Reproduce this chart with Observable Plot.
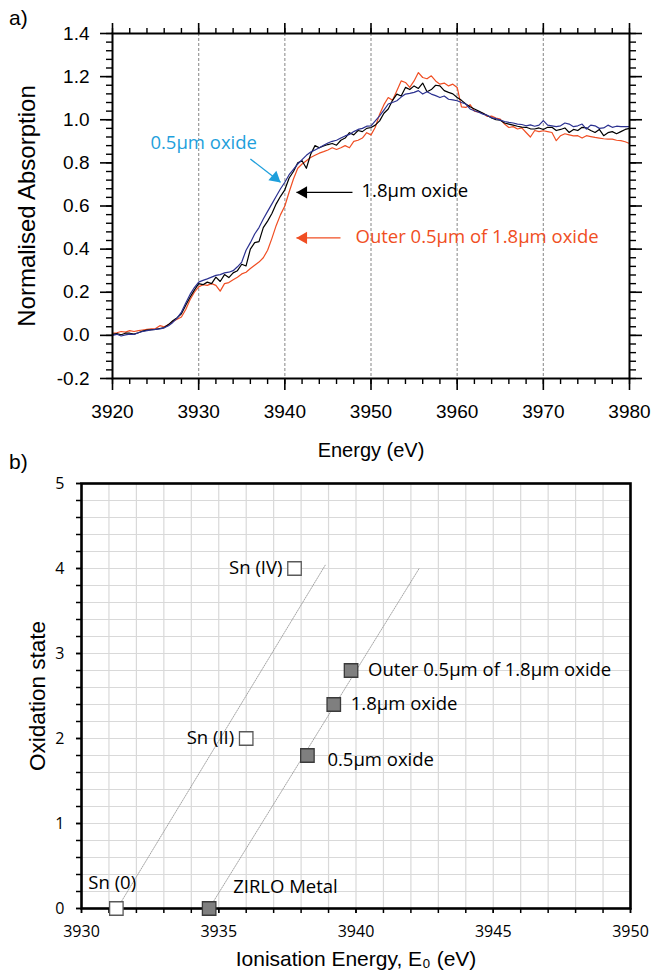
<!DOCTYPE html>
<html><head><meta charset="utf-8">
<script src="https://cdn.jsdelivr.net/npm/d3@7"></script>
<script src="https://cdn.jsdelivr.net/npm/@observablehq/plot@0.6"></script>
<style>
body{margin:0;background:#fff;}
#wrap{position:relative;width:652px;height:973px;overflow:hidden;background:#fff;}
#wrap svg{position:absolute;left:0;overflow:visible;}
.panel{position:absolute;left:9px;font-family:"Liberation Sans",Arial,sans-serif;font-size:21px;color:#000;}
</style></head><body>
<div id="wrap">
<div class="panel" style="top:6px">a)</div>
<div class="panel" style="top:450px">b)</div>
</div>
<script>
// ---------- Panel a) XANES spectra ----------
const energyStart = 3920, energyStep = 0.5;
const oxide05 = [
 0.000,0.005,-0.003,0.002,0.006,0.004,0.012,0.018,0.022,0.025,
 0.028,0.030,0.035,0.045,0.060,0.080,0.108,0.150,0.190,0.222,
 0.247,0.255,0.262,0.270,0.278,0.282,0.290,0.293,0.300,0.318,
 0.340,0.395,0.430,0.470,0.500,0.540,0.575,0.610,0.645,0.680,
 0.710,0.745,0.770,0.795,0.815,0.835,0.850,0.860,0.870,0.882,
 0.892,0.900,0.905,0.915,0.925,0.932,0.945,0.955,0.960,0.970,
 0.972,0.995,1.018,1.045,1.073,1.080,1.088,1.105,1.119,1.122,
 1.127,1.135,1.119,1.130,1.119,1.112,1.103,1.110,1.095,1.092,
 1.088,1.080,1.073,1.050,1.042,1.035,1.026,1.020,1.010,1.005,
 0.998,0.992,0.988,0.985,0.980,0.978,0.972,0.976,0.970,0.975,
 0.996,0.975,0.972,0.968,0.972,0.985,0.980,0.968,0.972,0.980,
 0.957,0.975,0.972,0.960,0.962,0.975,0.965,0.970,0.968,0.968,
 0.968];
const oxide18 = [
 0.005,0.008,0.003,0.010,0.010,0.006,0.012,0.020,0.024,0.026,
 0.028,0.032,0.036,0.050,0.068,0.082,0.100,0.140,0.177,0.210,
 0.240,0.235,0.247,0.240,0.270,0.250,0.282,0.268,0.290,0.300,
 0.330,0.322,0.400,0.430,0.435,0.500,0.530,0.565,0.610,0.645,
 0.675,0.730,0.760,0.800,0.810,0.775,0.840,0.880,0.870,0.878,
 0.885,0.890,0.882,0.905,0.915,0.940,0.930,0.950,0.945,0.960,
 0.964,0.975,0.995,1.030,1.050,1.090,1.119,1.110,1.150,1.140,
 1.157,1.145,1.170,1.130,1.140,1.160,1.157,1.135,1.127,1.120,
 1.103,1.090,1.073,1.060,1.050,1.040,1.030,1.020,1.008,1.000,
 0.998,0.985,0.980,0.975,0.970,0.966,0.965,0.958,0.957,0.962,
 0.955,0.965,0.965,0.950,0.955,0.962,0.941,0.955,0.950,0.965,
 0.962,0.950,0.941,0.955,0.926,0.940,0.945,0.935,0.945,0.955,
 0.960];
const outerOxide = [
 0.010,0.012,0.018,0.015,0.022,0.018,0.022,0.025,0.028,0.030,
 0.032,0.045,0.040,0.050,0.065,0.075,0.085,0.120,0.165,0.200,
 0.225,0.235,0.232,0.240,0.232,0.205,0.240,0.245,0.258,0.270,
 0.285,0.293,0.310,0.325,0.340,0.360,0.395,0.450,0.510,0.560,
 0.600,0.665,0.725,0.775,0.795,0.810,0.825,0.835,0.845,0.852,
 0.860,0.870,0.862,0.870,0.880,0.870,0.900,0.905,0.915,0.940,
 0.930,0.965,1.026,1.070,1.103,1.090,1.134,1.180,1.173,1.150,
 1.180,1.219,1.196,1.190,1.204,1.180,1.165,1.170,1.157,1.165,
 1.150,1.060,1.057,1.070,1.040,1.035,1.030,1.015,1.017,1.008,
 1.003,0.980,0.964,0.968,0.957,0.962,0.941,0.920,0.950,0.945,
 0.949,0.945,0.941,0.903,0.926,0.935,0.930,0.925,0.926,0.915,
 0.926,0.922,0.918,0.915,0.912,0.910,0.910,0.905,0.903,0.898,
 0.890];

const spectraNames = ["Outer 0.5µm of 1.8µm oxide", "1.8µm oxide", "0.5µm oxide"];
const spectraValues = [outerOxide, oxide18, oxide05];
const spectraColors = ["#f04e23", "#000000", "#2b3190"];

const energyMajorTicks = [3920, 3930, 3940, 3950, 3960, 3970, 3980];
const energyGrid = [3930, 3940, 3950, 3960, 3970];
const absMajorTicks = [-0.2, 0, 0.2, 0.4, 0.6, 0.8, 1.0, 1.2, 1.4];

// annotations (data coordinates)
const annoText = ["0.5µm oxide", "1.8µm oxide", "Outer 0.5µm of 1.8µm oxide"];
const annoTextE = [3924.4, 3948.9, 3948.2];
const annoTextV = [0.894, 0.668, 0.455];
const annoColors = ["#1e9fdc", "#000000", "#f04e23"];
const arrowFromE = [3936.0, 3947.85, 3946.46];
const arrowFromV = [0.818, 0.663, 0.452];
const arrowTipE = [3939.5, 3941.35, 3941.35];
const arrowTipV = [0.710, 0.663, 0.452];

// ---------- Panel b) oxidation state ----------
const refNames = ["Sn (0)", "Sn (II)", "Sn (IV)"];
const refEnergy = [3931.27, 3936.0, 3937.76];
const refOxidation = [0, 2, 4];
const sampleNames = ["ZIRLO Metal", "0.5µm oxide", "1.8µm oxide", "Outer 0.5µm of 1.8µm oxide"];
const sampleEnergy = [3934.65, 3938.23, 3939.19, 3939.82];
const sampleOxidation = [0, 1.8, 2.4, 2.8];
const refFitEnergy = [3931.3, 3938.9];
const refFitOxidation = [0, 4.05];
const sampleFitEnergy = [3934.65, 3942.3];
const sampleFitOxidation = [0, 4.0];
const ionMajorTicks = [3930, 3935, 3940, 3945, 3950];
const oxMajorTicks = [0, 1, 2, 3, 4, 5];

// ---------- build ----------
const spectra = [];
spectraValues.forEach((vals, s) => vals.forEach((v, i) => spectra.push({E: energyStart + i * energyStep, v, s: spectraNames[s]})));
const annos = annoText.map((t, i) => ({t, E: annoTextE[i], v: annoTextV[i], c: annoColors[i],
  E1: arrowFromE[i], v1: arrowFromV[i], E2: arrowTipE[i], v2: arrowTipV[i]}));

const sans = "'Liberation Sans', Arial, sans-serif";
const calib = "'Open Sans', 'Noto Sans', sans-serif";
const blank = () => "";

const energyMinor = d3.range(3920, 3981, 2);
const absMinor = d3.range(-0.2, 1.401, 0.04);

const chartA = Plot.plot({
  width: 652, height: 460,
  marginLeft: 112, marginRight: 23, marginTop: 33, marginBottom: 82,
  style: {fontFamily: sans, fontSize: "19px", background: "transparent", color: "#000"},
  x: {domain: [3920, 3980]},
  y: {domain: [-0.2, 1.4]},
  color: {domain: spectraNames, range: spectraColors},
  marks: [
    Plot.ruleX(energyGrid, {stroke: "#9a9a9a", strokeWidth: 1.2, strokeDasharray: "3,2"}),
    Plot.line(spectra, {x: "E", y: "v", z: "s", stroke: "s", strokeWidth: 1.2}),
    Plot.frame({stroke: "#000", strokeWidth: 2}),
    Plot.axisX(energyMajorTicks, {anchor: "bottom", tickSize: 12, tickPadding: 14, strokeWidth: 1.6, tickFormat: d => String(d), label: null, fontSize: 19}),
    Plot.axisX(energyMinor, {anchor: "bottom", tickSize: 6, strokeWidth: 1.4, tickFormat: blank, label: null}),
    Plot.axisX(energyMajorTicks, {anchor: "top", tickSize: 11, strokeWidth: 1.6, tickFormat: blank, label: null}),
    Plot.axisX(energyMinor, {anchor: "top", tickSize: 6, strokeWidth: 1.4, tickFormat: blank, label: null}),
    Plot.axisY(absMajorTicks, {anchor: "left", tickSize: 12, tickPadding: 11, strokeWidth: 1.6, tickFormat: d => d.toFixed(1), label: null, fontSize: 19}),
    Plot.axisY(absMinor, {anchor: "left", tickSize: 6, strokeWidth: 1.4, tickFormat: blank, label: null}),
    Plot.axisY(absMajorTicks, {anchor: "right", tickSize: 12, strokeWidth: 1.6, tickFormat: blank, label: null}),
    Plot.axisY(absMinor, {anchor: "right", tickSize: 6, strokeWidth: 1.4, tickFormat: blank, label: null}),
    Plot.text(["Energy (eV)"], {frameAnchor: "bottom", dy: 78, fontSize: 20, fontFamily: sans, fill: "#000"}),
    Plot.text(["Normalised Absorption"], {frameAnchor: "left", dx: -85, rotate: -90, textAnchor: "middle", fontSize: 24, fontFamily: sans, fill: "#000"}),
    Plot.link(annos, {x1: "E1", y1: "v1", x2: "E2", y2: "v2", stroke: "c", strokeWidth: 1.3}),
    Plot.dot(annos.slice(0, 1), {x: "E2", y: "v2", symbol: "triangle", r: 4.6, fill: "c", stroke: "none", rotate: 130, dx: -5.4, dy: -4.5}),
    Plot.dot(annos.slice(1), {x: "E2", y: "v2", symbol: "triangle", r: 4.6, fill: "c", stroke: "none", rotate: -90, dx: 7}),
    Plot.text(annos, {x: "E", y: "v", text: "t", fill: "c", textAnchor: "start", fontSize: 18.5, fontFamily: calib})
  ]
});
chartA.style.top = "0px";
document.getElementById("wrap").appendChild(chartA);

const refs = refNames.map((n, i) => ({n, E: refEnergy[i], o: refOxidation[i]}));
const samples = sampleNames.map((n, i) => ({n, E: sampleEnergy[i], o: sampleOxidation[i]}));
const refFit = refFitEnergy.map((E, i) => ({E, o: refFitOxidation[i]}));
const sampleFit = sampleFitEnergy.map((E, i) => ({E, o: sampleFitOxidation[i]}));

const labelFont = {fontSize: 18.5, fontFamily: calib, fill: "#000"};
const chartB = Plot.plot({
  width: 652, height: 503,
  marginLeft: 81, marginRight: 22, marginTop: 13, marginBottom: 65,
  style: {fontFamily: calib, fontSize: "16px", background: "transparent", color: "#000"},
  x: {domain: [3930, 3950]},
  y: {domain: [0, 5]},
  marks: [
    Plot.gridX(d3.range(3930, 3951, 1), {stroke: "#d9d9d9", strokeOpacity: 1, strokeWidth: 1.2}),
    Plot.gridY(d3.range(0, 5.01, 0.2), {stroke: "#d9d9d9", strokeOpacity: 1, strokeWidth: 1.2}),
    Plot.line(refFit, {x: "E", y: "o", stroke: "#9a9a9a", strokeWidth: 0.9, strokeDasharray: "1,1.2"}),
    Plot.line(sampleFit, {x: "E", y: "o", stroke: "#9a9a9a", strokeWidth: 0.9, strokeDasharray: "1,1.2"}),
    Plot.frame({stroke: "#000", strokeWidth: 2.6}),
    Plot.axisX(d3.range(3930, 3951, 1), {anchor: "bottom", tickSize: 5, strokeWidth: 1.5, tickFormat: blank, label: null}),
    Plot.axisX(ionMajorTicks, {anchor: "bottom", tickSize: 5, tickPadding: 12, strokeWidth: 1.5, tickFormat: d => String(d), label: null, fontSize: 16}),
    Plot.axisY(d3.range(0, 5.01, 0.2), {anchor: "left", tickSize: 5, strokeWidth: 1.5, tickFormat: blank, label: null}),
    Plot.axisY(oxMajorTicks, {anchor: "left", tickSize: 5, tickPadding: 12, strokeWidth: 1.5, tickFormat: d => String(d), label: null, fontSize: 16}),
    Plot.text(["Ionisation Energy, E₀ (eV)"], {frameAnchor: "bottom", dy: 57, fontSize: 21, fontFamily: sans, fill: "#000"}),
    Plot.text(["Oxidation state"], {frameAnchor: "left", dx: -44, rotate: -90, textAnchor: "middle", fontSize: 22.5, fontFamily: sans, fill: "#000"}),
    Plot.dot(refs, {x: "E", y: "o", symbol: "square", r: 7.6, fill: "#fff", stroke: "#595959", strokeWidth: 1.3}),
    Plot.dot(samples, {x: "E", y: "o", symbol: "square", r: 7.6, fill: "#7f7f7f", stroke: "#3a3a3a", strokeWidth: 1.3}),
    Plot.text(refs.slice(0, 1), {x: "E", y: "o", text: "n", textAnchor: "start", dx: -28, dy: -25, ...labelFont}),
    Plot.text(refs.slice(1), {x: "E", y: "o", text: "n", textAnchor: "end", dx: -12, ...labelFont}),
    Plot.text(samples.slice(0, 1), {x: "E", y: "o", text: "n", textAnchor: "start", dx: 24, dy: -21, ...labelFont}),
    Plot.text(samples.slice(1, 2), {x: "E", y: "o", text: "n", textAnchor: "start", dx: 20, dy: 5, ...labelFont}),
    Plot.text(samples.slice(2), {x: "E", y: "o", text: "n", textAnchor: "start", dx: 17, ...labelFont})
  ]
});
chartB.style.top = "470px";
document.getElementById("wrap").appendChild(chartB);
</script>
</body></html>
